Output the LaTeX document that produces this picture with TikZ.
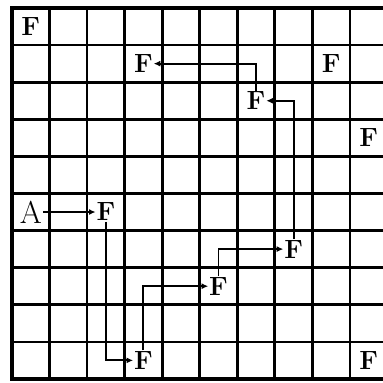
\documentclass[tikz,border=0pt]{standalone}
\usetikzlibrary{arrows.meta}
\tikzset{
letter/.style = {font=\fontsize{20}{20}\selectfont\bfseries, inner sep=0.5pt},
start/.style = {font=\fontsize{24}{24}\selectfont, inner sep=1pt},
link/.style = {line width=1.4pt, -{Latex[length=5pt,width=4.5pt]}},
}
\begin{document}
\begin{tikzpicture}[x = 1cm, y = 0.988cm]
\clip (-0.32,0.216) rectangle (9.88,-10.11);
\foreach \x in {1,...,9}{
\draw [line width = 2pt] (\x,0) -- (\x,-10);
}
\foreach \y in {1,...,9}{
\draw [line width = 2pt] (0,-\y) -- (10,-\y);
}
\draw [line width = 3.4pt] (0,0) rectangle (10,-10);
% letters in the cells
\node [letter] (f00) at (0.5,-0.5) {F};
\node [letter] (f13) at (3.5,-1.5) {F};
\node [letter] (f18) at (8.5,-1.5) {F};
\node [letter] (f26) at (6.5,-2.5) {F};
\node [letter] (f39) at (9.5,-3.5) {F};
\node [start] (a) at (0.5,-5.5) {A};
\node [letter] (f52) at (2.5,-5.5) {F};
\node [letter] (f67) at (7.5,-6.5) {F};
\node [letter] (f75) at (5.5,-7.5) {F};
\node [letter] (f93) at (3.5,-9.5) {F};
\node [letter] (f99) at (9.5,-9.5) {F};
% the path from A
\draw [link] (a.east) -- (f52.west);
\draw [link] (f52.south) |- (f93.west);
\draw [link] (f93.north) |- (f75.west);
\draw [link] (f75.north) |- (f67.west);
\draw [link] (f67.north) |- (f26.east);
\draw [link] (f26.north) |- (f13.east);
\end{tikzpicture}
\end{document}
